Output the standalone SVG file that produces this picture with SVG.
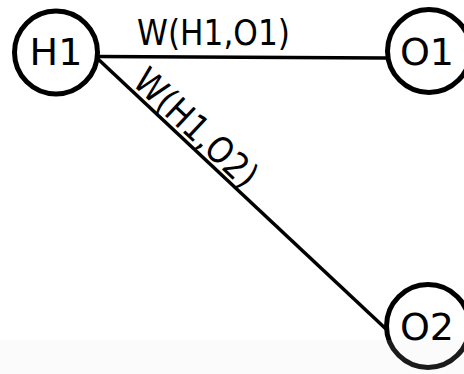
<svg xmlns="http://www.w3.org/2000/svg" width="464" height="374" viewBox="0 0 464 374">
  <style>
    .node circle { fill: #ffffff; stroke: #000000; stroke-width: 5; }
    .node text { font-family: "DejaVu Sans", sans-serif; font-size: 38px; fill: #000000; text-anchor: middle; }
    .edge { stroke: #000000; stroke-width: 3.5; fill: none; }
    .elabel { font-family: "DejaVu Sans", sans-serif; font-size: 36px; fill: #000000; text-anchor: middle; }
  </style>
  <rect x="0" y="0" width="464" height="374" fill="#ffffff"/>
  <g id="connectors">
    <line class="edge" x1="98" y1="56.5" x2="386" y2="58"/>
    <line class="edge" x1="98" y1="59" x2="386" y2="329"/>
    <text class="elabel" x="213.5" y="45" textLength="153" lengthAdjust="spacingAndGlyphs">W(H1,O1)</text>
    <text class="elabel" x="187.5" y="137" textLength="155" lengthAdjust="spacingAndGlyphs" transform="rotate(43.3 187.5 137)">W(H1,O2)</text>
  </g>
  <g id="H1" class="node">
    <circle cx="56" cy="52.5" r="41.5"/>
    <text x="56" y="65">H1</text>
  </g>
  <g id="O1" class="node">
    <circle cx="429" cy="51" r="41.5"/>
    <text x="427" y="65">O1</text>
  </g>
  <g id="O2" class="node">
    <circle cx="428" cy="326" r="41.5"/>
    <text x="427" y="340">O2</text>
  </g>
  <rect x="0" y="340" width="464" height="34" fill="#e0e0e0" opacity="0.12"/>
</svg>
